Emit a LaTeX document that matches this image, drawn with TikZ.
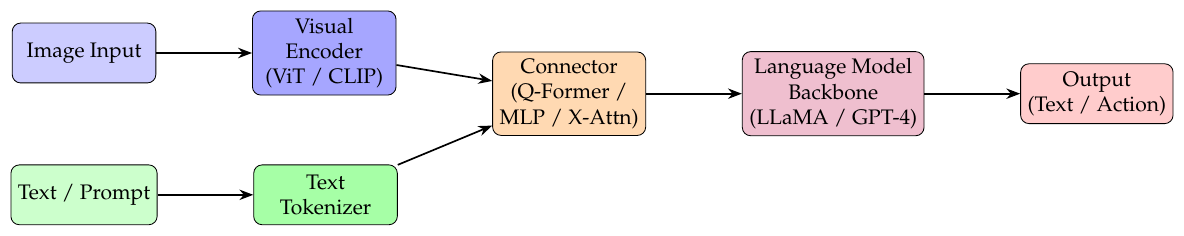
\documentclass[tikz,border=0pt]{standalone}
\usepackage[T1]{fontenc}
\usepackage{mathpazo}
\usetikzlibrary{positioning,arrows.meta}
\tikzset{
  stagebox/.style={draw, rounded corners, align=center, minimum width=2.4cm, minimum height=1cm},
  flow/.style={-{Stealth}, thick}
}
\begin{document}
\begin{tikzpicture}
% inputs
\node[stagebox, fill=blue!20] (img) at (0,0) {Image Input};
\node[stagebox, fill=green!20] (txt) at (0,-2.37) {Text / Prompt};
% encoders
\node[stagebox, fill=blue!35, right=1.6cm of img] (enc) {Visual\\Encoder\\(ViT / CLIP)};
\node[stagebox, fill=green!35, right=1.6cm of txt] (tok) {Text\\Tokenizer};
% fusion and model
\node[stagebox, fill=orange!30, right=1.6cm of enc, yshift=-0.68cm] (conn) {Connector\\(Q-Former /\\MLP / X-Attn)};
\node[stagebox, fill=purple!25, right=1.6cm of conn] (llm) {Language Model\\Backbone\\(LLaMA / GPT-4)};
\node[stagebox, fill=red!20, right=1.6cm of llm] (out) {Output\\(Text / Action)};
\draw[flow] (img) -- (enc);
\draw[flow] (txt) -- (tok);
\draw[flow] (enc) -- (conn);
\draw[flow] (tok) -- (conn);
\draw[flow] (conn) -- (llm);
\draw[flow] (llm) -- (out);
\path ([shift={(-5pt,-5pt)}]current bounding box.south west) rectangle ([shift={(5pt,5pt)}]current bounding box.north east);
\end{tikzpicture}
\end{document}
